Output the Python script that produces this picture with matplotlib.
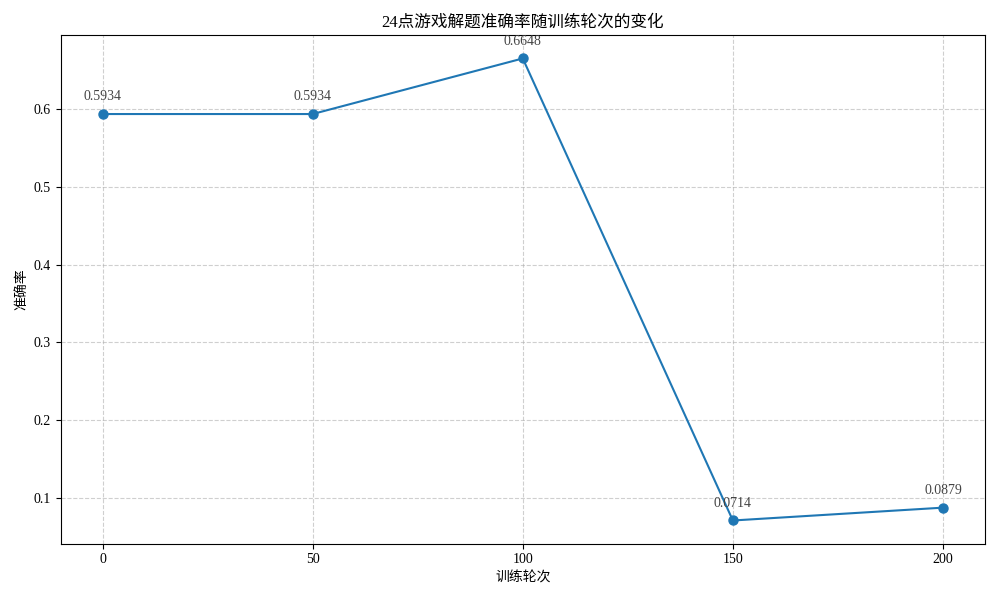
import matplotlib
matplotlib.use('Agg')
import matplotlib.pyplot as plt

plt.rcParams['font.family'] = ['Liberation Serif', 'Noto Sans CJK SC', 'DejaVu Sans']
plt.rcParams['axes.unicode_minus'] = False

# training rounds and accuracy
rounds = [0, 50, 100, 150, 200]
accuracy = [0.5934, 0.5934, 0.6648, 0.0714, 0.0879]

fig, ax = plt.subplots(figsize=(10, 6), dpi=100)
ax.plot(rounds, accuracy, marker='o', color='#1f77b4', linewidth=1.5, markersize=6.5)

for x, y in zip(rounds, accuracy):
    ax.annotate('%.4f' % y, (x, y), textcoords='offset points', xytext=(0, 10),
                ha='center', color='#444444')

ax.set_xticks(rounds)
ax.set_title('24点游戏解题准确率随训练轮次的变化')
ax.set_xlabel('训练轮次')
ax.set_ylabel('准确率')
ax.grid(True, linestyle='--', alpha=0.6)

plt.tight_layout()
plt.savefig('out.png')
